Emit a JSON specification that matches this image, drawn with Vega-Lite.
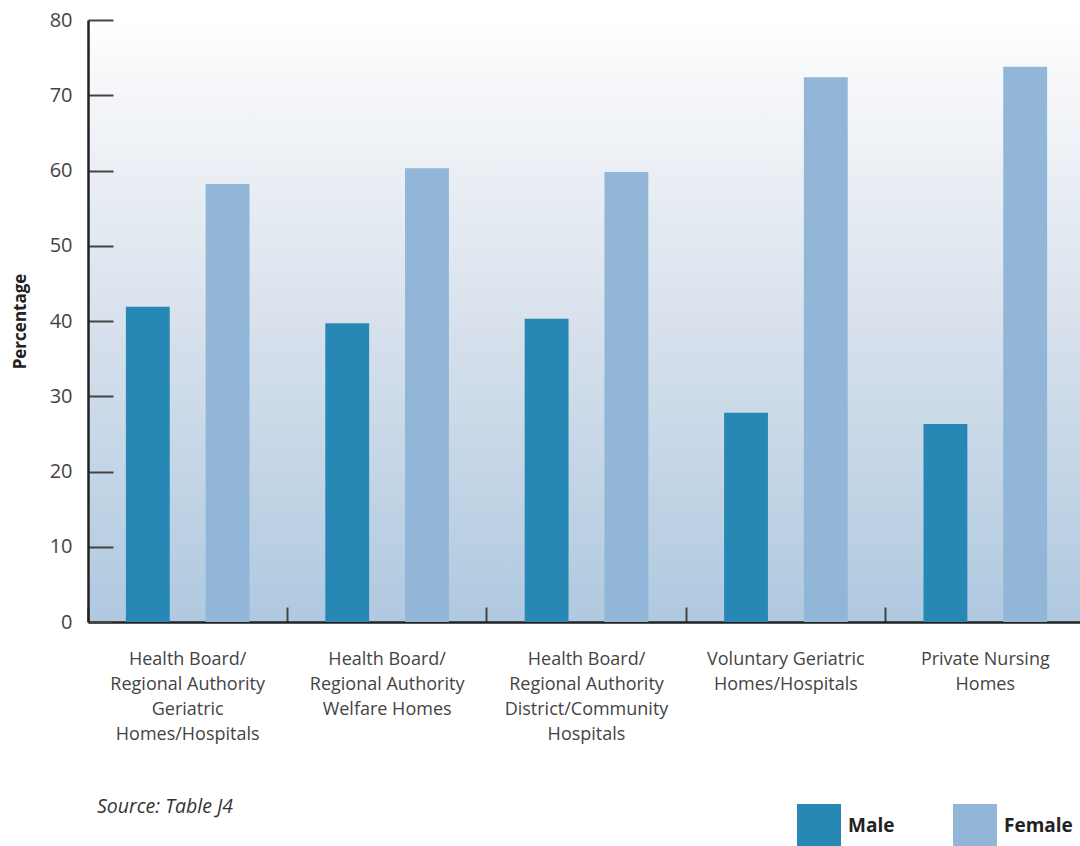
{
  "$schema": "https://vega.github.io/schema/vega-lite/v6.json",
  "width": 992,
  "height": 602,
  "autosize": {"type": "none"},
  "padding": {"left": 88, "top": 20, "right": 0, "bottom": 224},
  "background": "white",
  "config": {
    "font": "Open Sans",
    "view": {
      "stroke": null,
      "fill": {
        "gradient": "linear",
        "x1": 0, "y1": 0, "x2": 0, "y2": 1,
        "stops": [
          {"offset": 0, "color": "#ffffff"},
          {"offset": 0.09, "color": "#f7f8fa"},
          {"offset": 0.5, "color": "#d8e1ec"},
          {"offset": 1, "color": "#afc9e0"}
        ]
      }
    }
  },
  "data": {
    "values": [
      {"category": "Health Board/|Regional Authority|Geriatric|Homes/Hospitals", "sex": "Male", "value": 41.9},
      {"category": "Health Board/|Regional Authority|Geriatric|Homes/Hospitals", "sex": "Female", "value": 58.2},
      {"category": "Health Board/|Regional Authority|Welfare Homes", "sex": "Male", "value": 39.7},
      {"category": "Health Board/|Regional Authority|Welfare Homes", "sex": "Female", "value": 60.3},
      {"category": "Health Board/|Regional Authority|District/Community|Hospitals", "sex": "Male", "value": 40.3},
      {"category": "Health Board/|Regional Authority|District/Community|Hospitals", "sex": "Female", "value": 59.8},
      {"category": "Voluntary Geriatric|Homes/Hospitals", "sex": "Male", "value": 27.8},
      {"category": "Voluntary Geriatric|Homes/Hospitals", "sex": "Female", "value": 72.4},
      {"category": "Private Nursing|Homes", "sex": "Male", "value": 26.3},
      {"category": "Private Nursing|Homes", "sex": "Female", "value": 73.8}
    ]
  },
  "title": {
    "text": "Source: Table J4",
    "orient": "bottom",
    "anchor": "start",
    "frame": "group",
    "fontStyle": "italic",
    "fontWeight": "normal",
    "fontSize": 19.5,
    "color": "#333333",
    "font": "Open Sans",
    "offset": -50,
    "dx": 9
  },
  "mark": {"type": "bar"},
  "encoding": {
    "x": {
      "field": "category",
      "type": "nominal",
      "sort": null,
      "scale": {"range": [0, 997], "paddingInner": 0, "paddingOuter": 0},
      "axis": {
        "title": null,
        "bandPosition": 0,
        "labelExpr": "split(datum.label, '|')",
        "labelFontSize": 18,
        "labelColor": "#444444",
        "labelLineHeight": 25,
        "labelPadding": 43,
        "labelLimit": 400,
        "labelAngle": 0,
        "labelAlign": "center",
        "tickSize": -15,
        "tickColor": "#444444",
        "tickWidth": 2,
        "domainColor": "#222222",
        "domainWidth": 2.5
      }
    },
    "xOffset": {
      "field": "sex",
      "sort": ["Male", "Female"],
      "scale": {"paddingInner": 0.45, "paddingOuter": 0.475}
    },
    "y": {
      "field": "value",
      "type": "quantitative",
      "scale": {"domain": [0, 80], "nice": false},
      "axis": {
        "values": [0, 10, 20, 30, 40, 50, 60, 70, 80],
        "grid": false,
        "title": "Percentage",
        "titleFontSize": 17,
        "titleFontWeight": "bold",
        "titleColor": "#222222",
        "titlePadding": 20,
        "labelFontSize": 20,
        "labelColor": "#444444",
        "labelPadding": 41,
        "tickSize": -25,
        "tickColor": "#444444",
        "tickWidth": 2,
        "domainColor": "#222222",
        "domainWidth": 2.5
      }
    },
    "color": {
      "field": "sex",
      "type": "nominal",
      "sort": ["Male", "Female"],
      "scale": {"domain": ["Male", "Female"], "range": ["#2888b5", "#91b6d7"]},
      "legend": {
        "title": null,
        "orient": "none",
        "legendX": 709,
        "legendY": 784,
        "direction": "horizontal",
        "symbolType": "square",
        "symbolSize": 1936,
        "symbolStrokeWidth": 0,
        "symbolOpacity": 1,
        "labelFontSize": 19,
        "labelFontWeight": "bold",
        "labelColor": "#222222",
        "labelOffset": 7,
        "columnPadding": 58
      }
    }
  }
}
